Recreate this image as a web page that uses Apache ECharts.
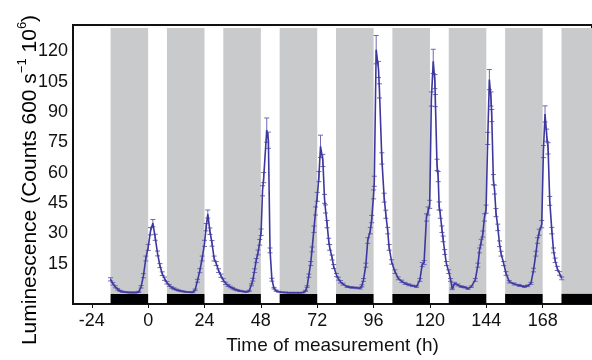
<!DOCTYPE html>
<html>
<head>
<meta charset="utf-8">
<script src="https://cdn.jsdelivr.net/npm/echarts@6/dist/echarts.min.js"></script>
<style>
html,body{margin:0;padding:0;background:#fff;}
#chart{width:592px;height:360px;}
</style>
</head>
<body>
<div id="chart"></div>
<script>
// Time of measurement (h)
const hours = [
 -16,-15,-14,-13,-12,-11,-10,-9,-8,-7,-6,-5,-4,-3,-2,-1,0,1,2,3,4,5,6,7,8,9,10,11,12,13,14,15,16,17,18,19,
 20,21,22,23,24,24.7,25.4,26.3,27.2,28.1,29.0,30,31,32,33,34,35,36,37,38,39,40,41,42,43,
 44,44.6,45.3,46,46.8,47.5,48.1,48.7,49.2,50.5,51.2,51.9,52.7,53.6,54.5,55.5,57,58.5,60,61.5,63,64.5,66,67,67.7,
 68.4,69.2,69.8,70.6,71.3,72,72.7,73.4,74.4,75.1,75.5,76.2,76.9,77.3,78.3,79,80.2,81,81.9,83,84.7,86.5,88.5,90.3,
 91,91.7,92.7,93.5,94.6,95.2,96,96.3,97.1,98.1,98.5,99.5,100.5,101.2,102,102.6,103.7,105.1,106.5,108,109.4,111,112.6,114.3,
 115.7,116.7,117.5,118.5,119.2,119.9,120.6,121.4,122.1,122.3,123,123.5,123.9,124.4,125.1,125.6,126.3,127,128,128.8,129.5,130.5,131.9,133.3,134.8,136.2,137.6,
 139.3,140.4,141.1,141.8,142.5,143.2,143.9,144.6,145.3,146,146.3,147,147.5,148.1,148.9,149.6,150.3,151.4,152.4,153.8,155.9,158,160.2,161.6,
 163,164.1,165.1,165.8,166.5,167.6,168.3,169,169.7,170.3,171,171.9,172.6,173.3,174.2,175.2,176.1
];
// Luminescence (Counts 600 s^-1 10^6), mean
const lum = [
 7.2,5.0,3.5,2.3,1.5,1.1,0.9,0.8,0.7,0.7,0.7,0.7,1.0,3.5,9.0,17.5,23,31,35,28,20,14,10,7.5,5.5,4.2,3.2,2.6,2.1,1.7,1.4,1.2,1.0,0.9,0.8,0.8,
 2.0,6.5,11.5,17.5,25,33,39.5,31,25,17.5,15,11.5,9,6.8,5.2,4.2,3.4,2.8,2.2,1.8,1.5,1.3,1.1,1.0,1.5,
 4.5,7,11.5,16.5,20.5,25.5,30.5,51,57.5,81,76,21.5,7,2.8,1.6,1.1,0.8,0.7,0.6,0.6,0.6,0.6,0.7,1.5,3.6,
 9,15,22,32,41,48,58,73,66,47,42,34.5,26,23,18,13.5,9.3,7.5,6,4.8,3.6,3.2,3.0,2.8,
 4,6.9,14.2,26.4,31.3,37,49.2,55.7,120.8,111,100.4,67,47.6,39.4,31.3,23,15.8,11,7.7,6.2,5.2,4.5,4.0,3.6,
 6.9,14.5,15.5,37.8,41,44.3,96.4,115,105,95.6,63.8,58,43.5,39.4,32,27.2,20.7,15,11,6.9,2.5,5.2,4.4,3.6,3.3,2.6,3.6,
 6.9,14.2,21.5,25.6,29.6,37.8,41.9,76.9,106,96.4,88.2,56.5,51.6,40.2,32.9,24.8,19.9,15,10.1,6,4.9,4.2,3.6,4.0,
 5.2,11.8,19.9,26.4,30.5,34.5,70.4,89,78.5,72,46,31.3,21.5,16.6,12.6,10.1,7.7
];
// error (± half-length of error bar)
const err = [
 0.8,0.6,0.5,0.4,0.3,0.3,0.2,0.2,0.2,0.2,0.2,0.2,0.3,0.6,1.0,1.2,1.5,1.8,1.8,1.5,1.2,1.0,0.9,0.8,0.6,0.5,0.4,0.4,0.3,0.3,0.3,0.2,0.2,0.2,0.2,0.2,
 0.4,0.7,1.0,1.2,1.5,1.8,2.0,1.6,1.4,1.2,1.0,0.9,0.8,0.7,0.6,0.5,0.4,0.4,0.3,0.3,0.3,0.2,0.2,0.2,0.3,
 0.5,0.7,0.9,1.0,1.2,1.4,1.6,2.5,2.5,6.0,4.0,1.2,0.7,0.4,0.3,0.2,0.2,0.2,0.2,0.2,0.2,0.2,0.2,0.3,0.4,
 0.8,1.0,1.2,1.6,2.0,2.2,2.5,5.5,3.0,2.2,2.0,1.8,1.5,1.4,1.2,1.0,0.8,0.7,0.6,0.5,0.4,0.4,0.4,0.4,
 0.5,0.7,1.0,1.4,1.6,1.8,2.2,2.5,7.0,4.0,3.5,2.8,2.2,2.0,1.6,1.4,1.1,0.9,0.7,0.6,0.5,0.5,0.4,0.4,
 0.7,1.0,1.0,1.8,2.0,2.0,3.5,6.0,3.5,3.0,2.8,2.5,2.0,2.0,1.6,1.4,1.2,1.0,0.9,0.7,0.4,0.5,0.5,0.4,0.4,0.4,0.4,
 0.7,1.0,1.2,1.4,1.5,1.8,2.0,3.0,5.0,3.5,3.0,2.5,2.2,2.0,1.6,1.4,1.2,1.0,0.9,0.6,0.5,0.5,0.4,0.4,
 0.5,0.9,1.2,1.4,1.5,1.8,3.0,4.0,3.0,2.8,2.2,1.6,1.2,1.1,1.0,0.9,0.7
];
// Dark periods (h): start and end
const darkStart = [-16, 8, 32, 56, 80, 104, 128, 152, 176];
const darkEnd   = [0, 24, 48, 72, 96, 120, 144, 168, 200];
// Axis tick labels
const xTicks = [-24, 0, 24, 48, 72, 96, 120, 144, 168];
const yTicks = [15, 30, 45, 60, 75, 90, 105, 120];

const LINE = '#3d389e';
const GRAY = '#c9cacc';
const GRAY_TOP = 131.5;

const chart = echarts.init(document.getElementById('chart'), null, {renderer: 'canvas'});

const bandData = darkStart.map((s, i) => [s, darkEnd[i]]);
const lineData = hours.map((h, i) => [h, lum[i]]);
const errData = hours.map((h, i) => [h, lum[i], err[i]]);

const FONT = 'Liberation Sans, Arial, sans-serif';

chart.setOption({
  animation: false,
  backgroundColor: '#fff',
  grid: {
    left: 73, top: 25, right: -3, bottom: 52.4,
    show: true, borderColor: '#111', borderWidth: 2, backgroundColor: 'transparent'
  },
  xAxis: {
    type: 'value', min: -32, max: 189,
    name: 'Time of measurement (h)', nameLocation: 'middle', nameGap: 32,
    nameTextStyle: {fontFamily: FONT, fontSize: 19, color: '#111'},
    axisLine: {show: true, onZero: false, lineStyle: {color: '#111', width: 2}},
    axisTick: {show: true, customValues: xTicks, length: 4, lineStyle: {color: '#111', width: 1}},
    axisLabel: {customValues: xTicks, margin: 8, fontFamily: FONT, fontSize: 18, color: '#111'},
    splitLine: {show: false}
  },
  yAxis: {
    type: 'value', min: -5, max: 133,
    axisLine: {show: true, onZero: false, lineStyle: {color: '#111', width: 2}},
    axisTick: {show: false},
    axisLabel: {customValues: yTicks, margin: 5, fontFamily: FONT, fontSize: 18, color: '#111'},
    splitLine: {show: false}
  },
  graphic: [{
    type: 'text', x: 28, y: 180, rotation: Math.PI / 2,
    style: {
      text: '{a|Luminescence (Counts 600 s}{s|−1}{a| 10}{s|6}{a|)}',
      align: 'center', verticalAlign: 'middle',
      rich: {
        a: {fontFamily: FONT, fontSize: 21, color: '#111', lineHeight: 25, verticalAlign: 'bottom'},
        s: {fontFamily: FONT, fontSize: 13, color: '#111', lineHeight: 25, verticalAlign: 'top'}
      }
    }
  }],
  series: [
    {
      type: 'custom', z: 1, silent: true,
      data: bandData,
      renderItem: function (params, api) {
        const s = api.value(0), e = api.value(1);
        const cs = params.coordSys;
        const clip = {x: cs.x, y: cs.y, width: cs.width, height: cs.height};
        const g1 = api.coord([s, GRAY_TOP]);
        const g2 = api.coord([e, 0]);
        const b1 = api.coord([s, 0]);
        const b2 = api.coord([e, -5]);
        const grayRect = echarts.graphic.clipRectByRect({x: g1[0], y: g1[1], width: g2[0] - g1[0], height: g2[1] - g1[1]}, clip);
        const blackRect = echarts.graphic.clipRectByRect({x: b1[0], y: b1[1], width: b2[0] - b1[0], height: b2[1] - b1[1]}, clip);
        return {type: 'group', children: [
          {type: 'rect', shape: grayRect, style: {fill: GRAY}},
          {type: 'rect', shape: blackRect, style: {fill: '#000'}}
        ]};
      }
    },
    {
      type: 'custom', z: 3, silent: true,
      data: errData,
      renderItem: function (params, api) {
        const x = api.value(0), v = api.value(1), e = api.value(2);
        const t = api.coord([x, v + e]);
        const b = api.coord([x, v - e]);
        const st = {stroke: '#6d68b8', lineWidth: 1};
        const w = 2.5;
        return {type: 'group', children: [
          {type: 'line', shape: {x1: t[0], y1: t[1], x2: b[0], y2: b[1]}, style: st},
          {type: 'line', shape: {x1: t[0] - w, y1: t[1], x2: t[0] + w, y2: t[1]}, style: st},
          {type: 'line', shape: {x1: b[0] - w, y1: b[1], x2: b[0] + w, y2: b[1]}, style: st}
        ]};
      }
    },
    {
      type: 'line', z: 4, data: lineData, showSymbol: false, smooth: false,
      lineStyle: {color: LINE, width: 1.6}, silent: true
    }
  ]
});
</script>
</body>
</html>
